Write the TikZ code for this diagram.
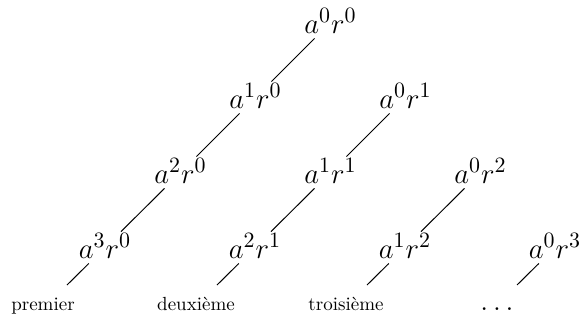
\documentclass[tikz,border=0pt]{standalone}
\usepackage{tikz}
\begin{document}
\begin{tikzpicture}[x=0.5pt,y=-0.5pt,
  term/.style={anchor=base,inner xsep=1pt,inner ysep=2.5pt,text height=10.5pt,text depth=0pt,font=\fontsize{15}{18}\selectfont},
  lab/.style={anchor=base,inner sep=0pt,font=\fontsize{9.5}{11}\selectfont},
  link/.style={draw=black,line width=0.5pt}]
\useasboundingbox (0,0) rectangle (582,322);
% row 0
\node[term] (a00) at (330.5,33) {$a^0r^0$};
% row 1
\node[term] (a10) at (255.5,108) {$a^1r^0$};
\node[term] (a01) at (405.5,108) {$a^0r^1$};
% row 2
\node[term] (a20) at (180.5,183) {$a^2r^0$};
\node[term] (a11) at (330.5,183) {$a^1r^1$};
\node[term] (a02) at (480.5,183) {$a^0r^2$};
% row 3
\node[term] (a30) at (105,258) {$a^3r^0$};
\node[term] (a21) at (255,258) {$a^2r^1$};
\node[term] (a12) at (405,258) {$a^1r^2$};
\node[term] (a03) at (555,258) {$a^0r^3$};
% free ends
\coordinate (e1) at (67,285);
\coordinate (e2) at (217,285);
\coordinate (e3) at (367,285);
\coordinate (e4) at (517,285);
% labels
\node[lab] (l1) at (43,310) {premier};
\node[lab] (l2) at (196,310) {deuxième};
\node[lab] (l3) at (346,310) {troisième};
\node[lab,font=\fontsize{15}{18}\selectfont] (l4) at (497,310) {$\ldots$};
% connectors
\draw[link] (a00) -- (a10);
\draw[link] (a10) -- (a20);
\draw[link] (a20) -- (a30);
\draw[link] (a01) -- (a11);
\draw[link] (a11) -- (a21);
\draw[link] (a02) -- (a12);
\draw[link] (a30) -- (e1);
\draw[link] (a21) -- (e2);
\draw[link] (a12) -- (e3);
\draw[link] (a03) -- (e4);
\end{tikzpicture}
\end{document}
